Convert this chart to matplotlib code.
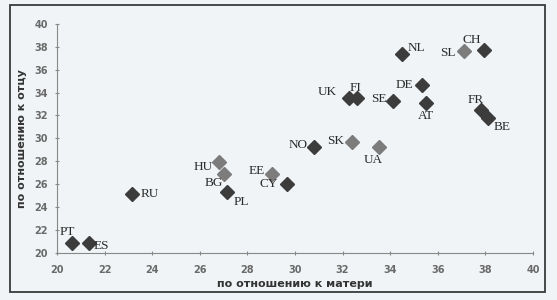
import matplotlib.pyplot as plt
from matplotlib.patches import Rectangle

# страны и значения (по отношению к матери, по отношению к отцу)
countries = ['PT', 'ES', 'RU', 'HU', 'BG', 'PL', 'EE', 'CY', 'NO', 'SK', 'UA',
             'UK', 'FI', 'SE', 'DE', 'AT', 'NL', 'SL', 'CH', 'FR', 'BE']
mother = [20.65, 21.35, 23.15, 26.8, 27.0, 27.15, 29.05, 29.65, 30.8, 32.4, 33.55,
          32.25, 32.6, 34.1, 35.35, 35.5, 34.5, 37.1, 37.95, 37.8, 38.1]
father = [20.85, 20.85, 25.1, 27.95, 26.9, 25.35, 26.9, 26.0, 29.25, 29.7, 29.25,
          33.5, 33.5, 33.3, 34.7, 33.05, 37.35, 37.6, 37.7, 32.5, 31.75]
grey_group = ['HU', 'BG', 'EE', 'SK', 'UA', 'SL']

x_ticks = list(range(20, 41, 2))
y_ticks = list(range(20, 41, 2))

# смещения подписей в пикселях (dx, dy вверх)
label_offsets = {
    'PT': (-5, 11), 'ES': (12, -3), 'RU': (18, 0), 'HU': (-16, -5),
    'BG': (-10, -9), 'PL': (14, -10), 'EE': (-16, 3), 'CY': (-18, 0),
    'NO': (-16, 2), 'SK': (-16, 1), 'UA': (-6, -13), 'UK': (-21, 6),
    'FI': (-1, 10), 'SE': (-14, 2), 'DE': (-18, 0), 'AT': (0, -13),
    'NL': (14, 6), 'SL': (-16, -2), 'CH': (-12, 10), 'FR': (-5, 10),
    'BE': (14, -9),
}

bg = '#f0f4f6'
fig = plt.figure(figsize=(5.57, 3.0), dpi=100, facecolor=bg)
ax = fig.add_axes([57 / 557, 1 - 252.7 / 300, 476 / 557, 228.7 / 300])
ax.set_facecolor(bg)

# рамка вокруг всей диаграммы
fig.patches.append(Rectangle((10 / 557, 1 - 292 / 300), 535 / 557, 287 / 300,
                             transform=fig.transFigure, fill=False,
                             edgecolor='#3a3a3a', linewidth=1.3))

for c, xm, yf in zip(countries, mother, father):
    col = '#7c7c7c' if c in grey_group else '#3c3c3c'
    ax.plot(xm, yf, marker='D', markersize=7.5, color=col, linestyle='none')
    dx, dy = label_offsets[c]
    ax.annotate(c, (xm, yf), xytext=(dx, dy), textcoords='offset pixels',
                ha='center', va='center', fontsize=9.5,
                family='Liberation Serif', color='#2a2a2a')

ax.set_xlim(20, 40)
ax.set_ylim(20, 40)
ax.set_xticks(x_ticks)
ax.set_yticks(y_ticks)
ax.tick_params(labelsize=7, colors='#888888', labelcolor='#6a6a6a',
               length=3, width=0.8, direction='inout')
ax.tick_params(axis='x', pad=7)
ax.tick_params(axis='y', pad=5)
for t in ax.get_xticklabels() + ax.get_yticklabels():
    t.set_fontweight('bold')
ax.spines['top'].set_visible(False)
ax.spines['right'].set_visible(False)
ax.spines['left'].set_color('#888888')
ax.spines['bottom'].set_color('#888888')

ax.set_xlabel('по отношению к матери', fontsize=8, fontweight='bold',
              color='#333333')
ax.xaxis.set_label_coords(0.5, -0.113)
ax.set_ylabel('по отношению к отцу', fontsize=8, fontweight='bold',
              color='#333333')
ax.yaxis.set_label_coords(-0.064, 0.5)

fig.savefig('out.png', dpi=100, facecolor=fig.get_facecolor())
